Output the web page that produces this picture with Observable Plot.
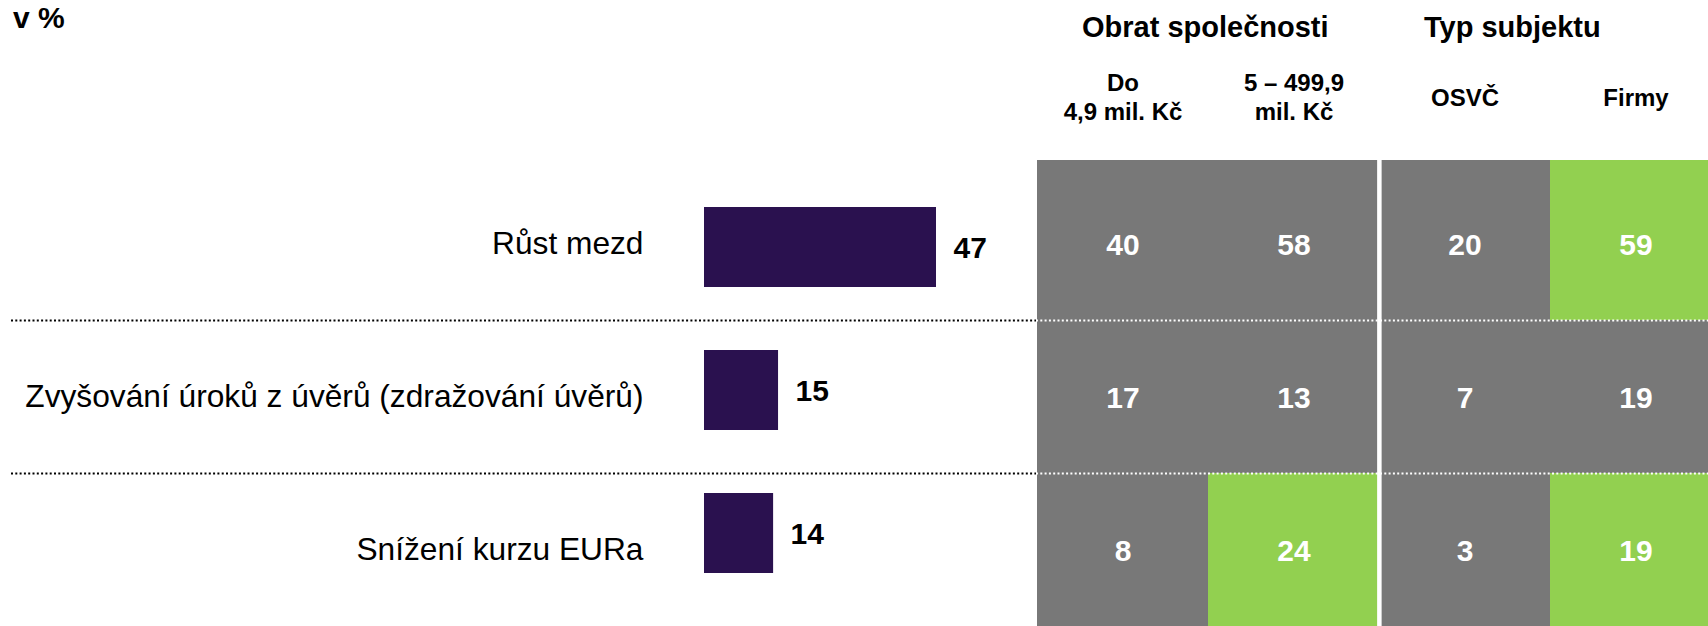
<!DOCTYPE html>
<html><head><meta charset="utf-8">
<script src="https://cdn.jsdelivr.net/npm/d3@7"></script>
<script src="https://cdn.jsdelivr.net/npm/@observablehq/plot@0.6"></script>
<style>
html,body{margin:0;padding:0;background:#fff;overflow:hidden;width:1708px;height:626px;}
#wrap{position:relative;width:1708px;height:626px;overflow:hidden;}
#wrap svg{position:absolute;left:0;top:0;}
#title{position:absolute;left:13px;top:1px;font:bold 30px "Liberation Sans",Arial,sans-serif;line-height:34px;color:#000;}
</style></head><body>
<div id="wrap"><div id="title">v %</div></div>
<script>
// ---- data ----
const categories = ["Růst mezd", "Zvyšování úroků z úvěrů (zdražování úvěrů)", "Snížení kurzu EURa"];
const totals = [47, 15, 14];
const columns = ["Do\n4,9 mil. Kč", "5 – 499,9\nmil. Kč", "OSVČ", "Firmy"];
const groups = ["Obrat společnosti", "Typ subjektu"];
const groupFirstColumn = [0, 2];
const valuesDo49 = [40, 17, 8];
const values5to499 = [58, 13, 24];
const valuesOSVC = [20, 7, 3];
const valuesFirmy = [59, 19, 19];
const highlighted = [
  [false, false, false, true],
  [false, false, false, false],
  [false, true, false, true]
];

// ---- style ----
const FONT = "'Liberation Sans', Arial, sans-serif";
const BAR = "#2a114f";
const GRAY = "#787878";
const GREEN = "#92d050";

const barData = categories.map((c, i) => ({cat: c, v: totals[i]}));
const colValues = [valuesDo49, values5to499, valuesOSVC, valuesFirmy];
const cellData = categories.flatMap((row, i) => columns.map((col, j) => ({
  row, col, value: colValues[j][i], hi: highlighted[i][j]
})));
const groupData = groups.map((g, k) => ({name: g, col: columns[groupFirstColumn[k]]}));

const wrap = document.getElementById("wrap");

// Left: bars
const plotA = Plot.plot({
  width: 1708, height: 626, margin: 0,
  style: {background: "transparent", fontFamily: FONT},
  x: {domain: [0, 47], range: [704, 936], axis: null},
  y: {domain: categories, range: [205.5, 573.5], paddingInner: 0.444, paddingOuter: 0, axis: null},
  marks: [
    Plot.barX(barData, {x: "v", y: "cat", fill: BAR}),
    Plot.text(barData, {x: "v", y: "cat", text: d => String(d.v), dx: 17, dy: 1, textAnchor: "start",
      fontSize: 30, fontWeight: "bold", fill: "#000"})
  ]
});
wrap.appendChild(plotA);

// Right: table
const TOP = 167, LEFT = 1036;
const yBand = (626 - TOP) / categories.length;
const xBand = (1721 - LEFT) / columns.length;
const plotB = Plot.plot({
  width: 1708, height: 626, marginLeft: LEFT, marginRight: 0, marginTop: TOP, marginBottom: 0,
  style: {background: "transparent", fontFamily: FONT},
  x: {domain: columns, range: [LEFT, 1721], padding: 0, axis: null},
  y: {domain: categories, padding: 0, axis: null},
  marks: [
    Plot.cell(cellData, {filter: d => d.row === categories[0], x: "col", y: "row",
      fill: d => d.hi ? GREEN : GRAY, insetTop: -7, shapeRendering: "crispEdges"}),
    Plot.cell(cellData, {filter: d => d.row !== categories[0], x: "col", y: "row",
      fill: d => d.hi ? GREEN : GRAY, shapeRendering: "crispEdges"}),
    Plot.ruleX([columns[2]], {x: d => d, dx: -xBand / 2, stroke: "#fff", strokeWidth: 4.5, insetTop: -10}),
    Plot.ruleY(categories.slice(1), {y: d => d, dy: -yBand / 2, stroke: "#000", strokeWidth: 2,
      strokeDasharray: "2,2.3", insetLeft: -(LEFT - 11), insetRight: 1708 - LEFT}),
    Plot.ruleY(categories.slice(1), {y: d => d, dy: -yBand / 2, stroke: "#fff", strokeWidth: 2,
      strokeDasharray: "2,2.3"}),
    Plot.text(cellData, {x: "col", y: "row", text: d => String(d.value), fill: "#fff", dy: 1,
      fontSize: 30, fontWeight: "bold"}),
    Plot.text(columns, {x: d => d, text: d => d, frameAnchor: "top", dy: -71, lineAnchor: "middle",
      fontSize: 24, fontWeight: "bold", lineHeight: 1.2, fill: "#000"}),
    Plot.text(groupData, {x: "col", text: "name", frameAnchor: "top", dy: -140, dx: -41,
      textAnchor: "start", lineAnchor: "middle", fontSize: 29, fontWeight: "bold", fill: "#000"}),
    Plot.axisY({tickSize: 0, tickPadding: LEFT - 643, fontSize: 31.7, label: null, fill: "#000"})
  ]
});
wrap.appendChild(plotB);
</script>
</body></html>
